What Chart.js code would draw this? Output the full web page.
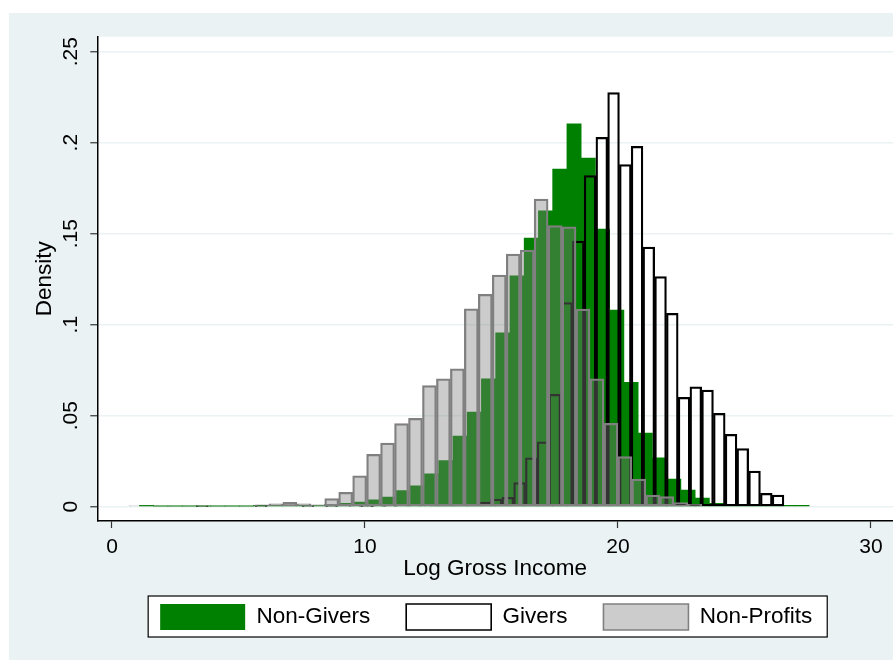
<!DOCTYPE html>
<html>
<head>
<meta charset="utf-8">
<title>Log Gross Income histogram</title>
<script src="https://cdn.jsdelivr.net/npm/chart.js@4.4.1/dist/chart.umd.min.js"></script>
<style>
    body { margin: 0; background: #ffffff; }
    canvas { display: block; }
</style>
</head>
<body>
<canvas id="myChart" width="893" height="660"></canvas>
<script>
// histogram bins: first bin start and bin width (log income units), densities per bin
const nonGiversStart = 1.085;
const nonGiversWidth = 0.5632;
const nonGivers = [
    0.0008, 0.0003, 0.0003, 0.0003, 0.0003, 0.0003, 0.0003, 0.0003, 0.0008, 0.0008,
    0.0004, 0.0008, 0.0006, 0.0013, 0.0019, 0.0026, 0.0038, 0.0053, 0.0088, 0.0115,
    0.018, 0.0253, 0.0388, 0.052, 0.0702, 0.0956, 0.1268, 0.1476, 0.1625, 0.1855,
    0.2103, 0.1916, 0.1526, 0.1081, 0.0684, 0.0405, 0.0268, 0.0152, 0.0092, 0.0048,
    0.0019, 0.001, 0.0006, 0.0004, 0.0006, 0.0008, 0.0008
];

const giversStart = 1.016;
const giversWidth = 0.4644;
const givers = [
    0, 0, 0, 0, 0, 0.0002, 0, 0, 0, 0,
    0.0002, 0, 0, 0, 0.0002, 0, 0.0002, 0, 0.0003, 0.0002,
    0.0003, 0.0003, 0.0004, 0.0004, 0.0005, 0.0006, 0.0008, 0.001, 0.0013, 0.0026,
    0.0042, 0.0052, 0.0132, 0.0269, 0.0357, 0.0618, 0.1121, 0.146, 0.1819, 0.203,
    0.2275, 0.188, 0.198, 0.1427, 0.1264, 0.1063, 0.0601, 0.0658, 0.0641, 0.0513,
    0.0398, 0.0319, 0.0196, 0.0074, 0.0064
];

const nonProfitsStart = 0.684;
const nonProfitsWidth = 0.5518;
const nonProfits = [
    0.0004, 0.0004, 0.0004, 0.0004, 0.0004, 0.0004, 0.0004, 0.0004, 0.0004, 0.001,
    0.0016, 0.0024, 0.0016, 0.001, 0.0044, 0.0079, 0.0169, 0.0288, 0.035, 0.0457,
    0.0485, 0.0666, 0.0702, 0.0757, 0.1087, 0.1167, 0.1273, 0.1388, 0.141, 0.169,
    0.1544, 0.1538, 0.1086, 0.0702, 0.0458, 0.0275, 0.0152, 0.0064, 0.0055, 0.0022,
    0.0013
];

const xTicks = [0, 10, 20, 30];
const xTickLabels = ["0", "10", "20", "30"];
const yTicks = [0, 0.05, 0.1, 0.15, 0.2, 0.25];
const yTickLabels = ["0", ".05", ".1", ".15", ".2", ".25"];

const xMin = -0.581;
const xMax = 30.87;

function toBins(start, width, values) {
    return values.map((v, i) => ({ x: start + (i + 0.5) * width, y: v }));
}

const fontFamily = "'Liberation Sans', Arial, sans-serif";

// stata style backdrop: outer panel, white plot region, framed legend
const backdrop = {
    id: "backdrop",
    afterLayout(chart) {
        // the original graph is wider than the crop, so its legend sits right of centre
        chart.legend.left += 35.2;
        chart.legend.right += 35.2;
    },
    beforeDraw(chart) {
        const { ctx, chartArea, width, height } = chart;
        ctx.save();
        ctx.fillStyle = "#ffffff";
        ctx.fillRect(0, 0, width, height);
        ctx.fillStyle = "#eaf2f3";
        ctx.fillRect(9, 13, width - 9, height - 13);
        ctx.fillStyle = "#ffffff";
        ctx.fillRect(chartArea.left, chartArea.top, chartArea.right - chartArea.left, chartArea.bottom - chartArea.top);

        const boxes = chart.legend.legendHitBoxes;
        if (boxes && boxes.length) {
            const first = boxes[0];
            const last = boxes[boxes.length - 1];
            const left = first.left - 12;
            const right = last.left + last.width + 15;
            const top = first.top - 8;
            const h = first.height + 15;
            ctx.fillStyle = "#ffffff";
            ctx.fillRect(left, top, right - left, h);
            ctx.strokeStyle = "#000000";
            ctx.lineWidth = 1.2;
            ctx.strokeRect(left, top, right - left, h);
        }
        ctx.restore();
    }
};

function hiddenX() {
    return {
        type: "linear",
        display: false,
        min: xMin,
        max: xMax,
        offset: false,
        afterBuildTicks: (scale) => {
            scale.ticks = xTicks.map(v => ({ value: v }));
        }
    };
}

const config = {
    type: "bar",
    data: {
        datasets: [{
            label: "Non-Givers",
            data: toBins(nonGiversStart, nonGiversWidth, nonGivers),
            xAxisID: "x",
            order: 3,
            backgroundColor: "#008000",
            borderColor: "#008000",
            borderWidth: 0
        }, {
            label: "Givers",
            data: toBins(giversStart, giversWidth, givers),
            xAxisID: "x2",
            order: 2,
            backgroundColor: "rgba(255, 255, 255, 0)",
            borderColor: "#000000",
            borderWidth: 1.6
        }, {
            label: "Non-Profits",
            data: toBins(nonProfitsStart, nonProfitsWidth, nonProfits),
            xAxisID: "x3",
            order: 1,
            backgroundColor: "rgba(128, 128, 128, 0.4)",
            borderColor: "#808080",
            borderWidth: 1.6
        }]
    },
    options: {
        responsive: false,
        devicePixelRatio: 1,
        animation: false,
        datasets: {
            bar: {
                grouped: false,
                barPercentage: 1,
                categoryPercentage: 1,
                borderSkipped: false
            }
        },
        layout: {
            padding: { left: 9, right: 0, top: 36.7, bottom: 20 }
        },
        scales: {
            x: {
                type: "linear",
                min: xMin,
                max: xMax,
                offset: false,
                afterBuildTicks: (scale) => {
                    scale.ticks = xTicks.map(v => ({ value: v }));
                },
                afterFit: (scale) => {
                    scale.height = 47;
                },
                grid: {
                    offset: false,
                    drawOnChartArea: false,
                    drawTicks: true,
                    tickLength: 7,
                    tickColor: "#333333",
                    tickWidth: 1.2
                },
                border: { color: "#000000", width: 1.5 },
                ticks: {
                    padding: 7,
                    color: "#000000",
                    font: { family: fontFamily, size: 21 },
                    maxRotation: 0,
                    callback: (value, index) => xTickLabels[index]
                },
                title: {
                    display: true,
                    text: "Log Gross Income",
                    color: "#000000",
                    font: { family: fontFamily, size: 22.5 },
                    padding: { top: 0, bottom: -14.5 }
                }
            },
            x2: hiddenX(),
            x3: hiddenX(),
            y: {
                min: -0.007857,
                max: 0.25824,
                afterBuildTicks: (scale) => {
                    scale.ticks = yTicks.map(v => ({ value: v }));
                },
                afterFit: (scale) => {
                    scale.width = 88.3;
                },
                grid: {
                    color: "#eaf2f3",
                    lineWidth: 1.5,
                    tickLength: 7,
                    tickColor: "#333333",
                    tickWidth: 1.2
                },
                border: { color: "#000000", width: 1.5 },
                ticks: {
                    padding: 5,
                    color: "#000000",
                    crossAlign: "center",
                    minRotation: 90,
                    maxRotation: 90,
                    font: { family: fontFamily, size: 21 },
                    callback: (value, index) => yTickLabels[index]
                },
                title: {
                    display: true,
                    text: "Density",
                    color: "#000000",
                    font: { family: fontFamily, size: 22.5 },
                    padding: { top: 22.5, bottom: 0 }
                }
            }
        },
        plugins: {
            tooltip: { enabled: false },
            legend: {
                position: "bottom",
                labels: {
                    boxWidth: 85,
                    boxHeight: 26,
                    padding: 36,
                    color: "#000000",
                    font: { family: fontFamily, size: 22.5 },
                    sort: (a, b) => a.datasetIndex - b.datasetIndex
                }
            }
        }
    },
    plugins: [backdrop]
};

var myChart = new Chart(
    document.getElementById("myChart"),
    config
);
</script>
</body>
</html>
